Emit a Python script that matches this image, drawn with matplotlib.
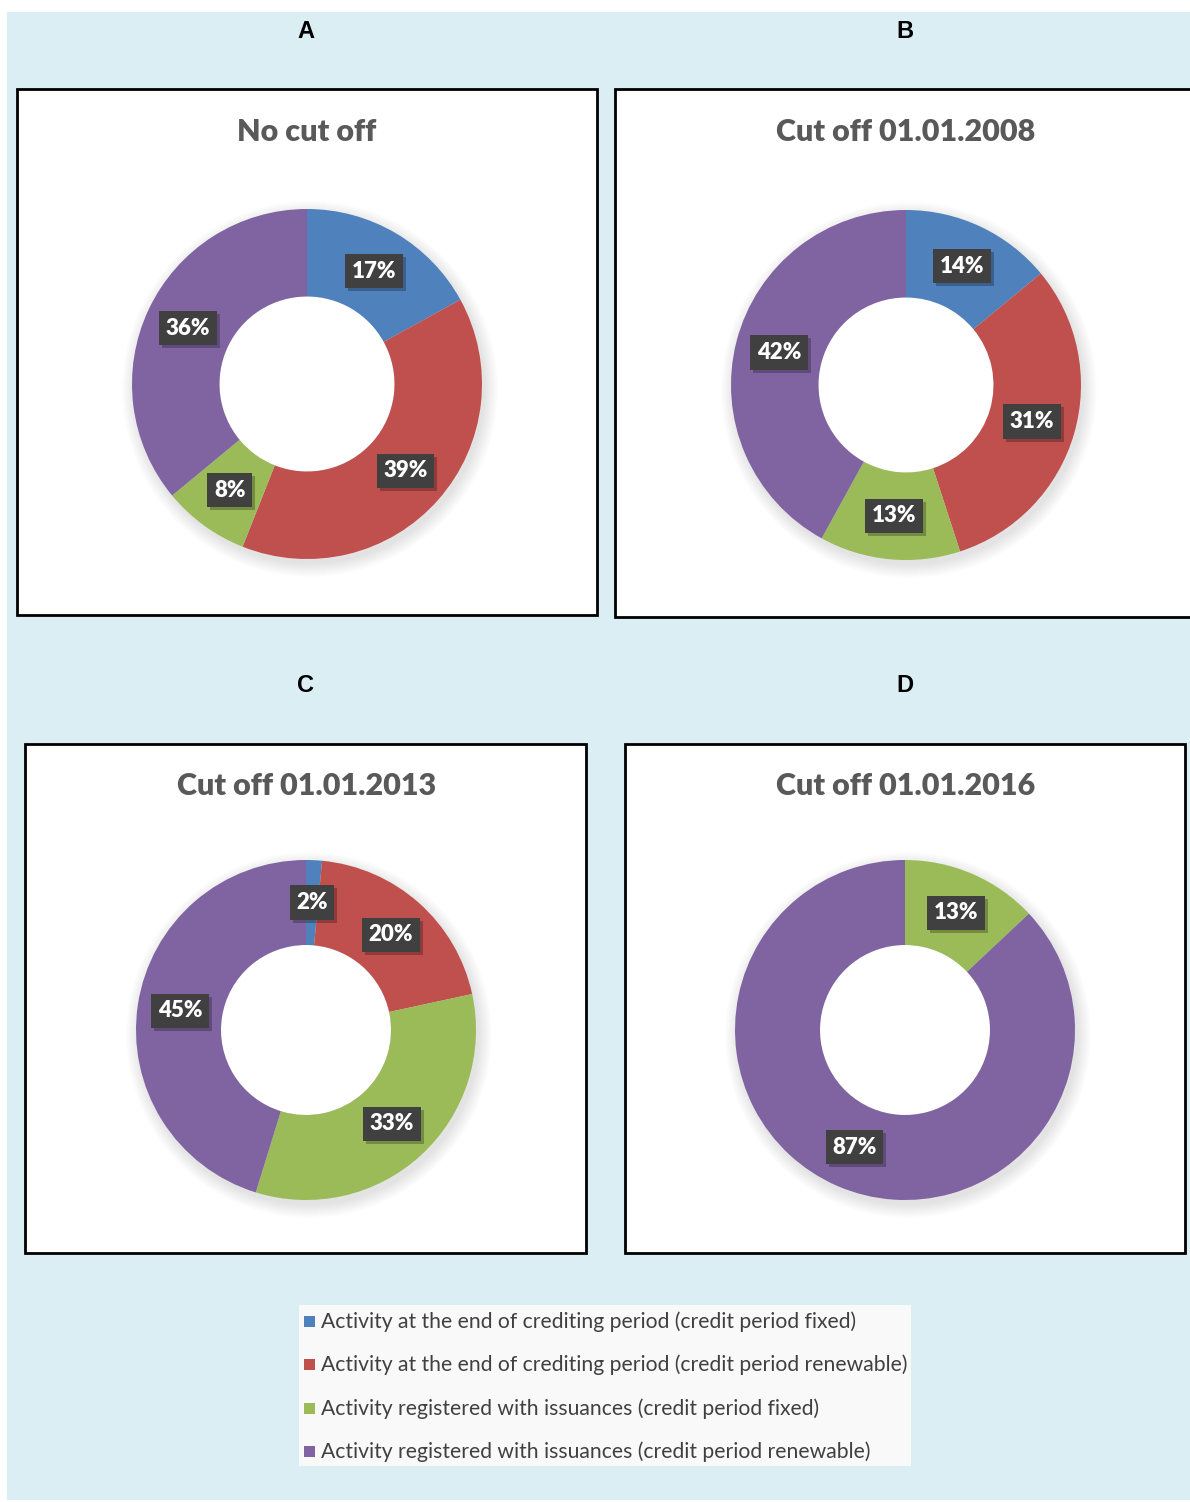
import numpy as np
import matplotlib.pyplot as plt
from matplotlib.patches import Rectangle, Circle

plt.rcParams['font.family'] = ['Lato', 'DejaVu Sans']

W, H = 1190, 1502

# Datos
series = [
    "Activity at the end of crediting period (credit period fixed)",
    "Activity at the end of crediting period (credit period renewable)",
    "Activity registered with issuances (credit period fixed)",
    "Activity registered with issuances (credit period renewable)",
]
colors = ["#4F81BD", "#C0504D", "#9BBB59", "#8064A2"]

letters = ["A", "B", "C", "D"]
titles = ["No cut off", "Cut off 01.01.2008", "Cut off 01.01.2013", "Cut off 01.01.2016"]

share_a = [17, 39, 8, 36]
share_b = [14, 31, 13, 42]
share_c = [1.5, 20, 33, 45]
share_d = [0, 0, 13, 87]
shares = [share_a, share_b, share_c, share_d]

labels_a = ["17%", "39%", "8%", "36%"]
labels_b = ["14%", "31%", "13%", "42%"]
labels_c = ["2%", "20%", "33%", "45%"]
labels_d = ["", "", "13%", "87%"]
labels = [labels_a, labels_b, labels_c, labels_d]

# Layout en píxeles (desde arriba)
frames = [(17, 89, 597, 615), (615, 89, 1200, 617), (25, 744, 586, 1253), (625, 744, 1185, 1253)]
centers = [(307, 384, 175), (906, 385, 175), (306, 1030, 170), (905, 1030, 170)]
letter_pos = [(306, 31), (905, 31), (306, 686), (905, 686)]
title_y = [132, 132, 786, 786]


def Y(py):
    return H - py


fig = plt.figure(figsize=(W / 100, H / 100), dpi=100)
ax = fig.add_axes([0, 0, 1, 1])

ax.add_patch(Rectangle((7, Y(1500)), W, 1500 - 12, fc="#DAEEF3", lw=0, zorder=0))

for i in range(4):
    x0, y0, x1, y1 = frames[i]
    ax.add_patch(Rectangle((x0, Y(y1)), x1 - x0, y1 - y0, fc="white", ec="black", lw=2, zorder=1))
    lx, ly = letter_pos[i]
    ax.text(lx, Y(ly), letters[i], ha="center", va="center", fontsize=17,
            fontweight="bold", family=["Liberation Sans", "DejaVu Sans"], color="black")
    ax.text(lx + 1, Y(title_y[i]), titles[i], ha="center", va="center", fontsize=22,
            fontweight="heavy", color="#595959", zorder=5)

    cx, cy, r = centers[i]
    width = r / 2
    # sombra suave
    for k in range(14):
        ax.add_patch(Circle((cx + 3, Y(cy) - 5), r + k, fc="black", alpha=0.006, lw=0, zorder=2))
    ax.add_patch(Circle((cx, Y(cy)), r - width, fc="white", lw=0, zorder=2.5))

    wedges, _ = ax.pie(shares[i], colors=colors, startangle=90, counterclock=False,
                       radius=r, center=(cx, Y(cy)), frame=True,
                       wedgeprops=dict(width=width, linewidth=0))
    for w in wedges:
        w.set_zorder(3)

    rmid = r - width / 2
    for w, lab in zip(wedges, labels[i]):
        if not lab:
            continue
        ang = np.deg2rad((w.theta1 + w.theta2) / 2)
        tx = cx + rmid * np.cos(ang)
        ty = Y(cy) + rmid * np.sin(ang)
        ax.text(tx + 3, ty - 3, lab, ha="center", va="center", fontsize=16, fontweight="heavy",
                color="none", zorder=4,
                bbox=dict(boxstyle="square,pad=0.3", fc="#000000", alpha=0.25, lw=0))
        ax.text(tx, ty, lab, ha="center", va="center", fontsize=16, fontweight="heavy",
                color="white", zorder=4.5,
                bbox=dict(boxstyle="square,pad=0.3", fc="#404040", lw=0))

# Leyenda
ax.add_patch(Rectangle((299, Y(1466)), 612, 161, fc="#F9F9F9", lw=0, zorder=1))
row_y = [1322, 1365, 1409, 1452]
for name, col, ry in zip(series, colors, row_y):
    ax.add_patch(Rectangle((304, Y(ry) - 5), 11, 11, fc=col, lw=0, zorder=2))
    ax.text(321, Y(ry), name, ha="left", va="center", fontsize=15.2, color="#404040", zorder=2)

ax.set_xlim(0, W)
ax.set_ylim(0, H)
ax.set_aspect("auto")
ax.axis("off")

fig.savefig("out.png", dpi=100)
